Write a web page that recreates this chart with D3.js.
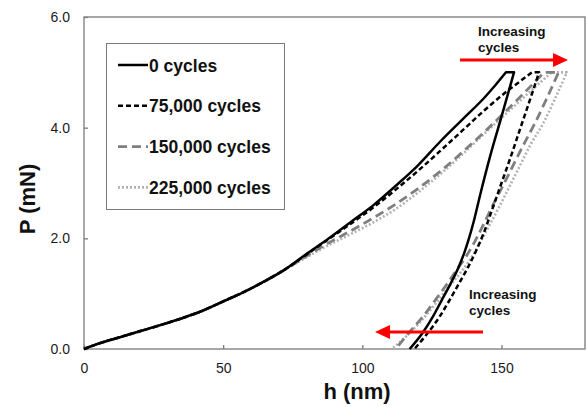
<!DOCTYPE html>
<html>
<head>
<meta charset="utf-8">
<script src="https://cdn.jsdelivr.net/npm/d3@7"></script>
<style>
  body { margin: 0; background: #fff; }
  svg { display: block; font-family: "Liberation Sans", Arial, sans-serif; }
</style>
</head>
<body>
<svg id="chart" width="587" height="407"></svg>
<script>
// Load-displacement curves: [h (nm), P (mN)]
// common start of the loading curves
const loadingBase = [
  [0, 0], [6, 0.11], [12, 0.2], [20, 0.32], [28, 0.44], [36, 0.57], [43, 0.7],
  [50, 0.86], [57, 1.02], [64, 1.2], [72, 1.43]
];

// loading branches (to the peak), unloading branches (from end of hold)
const load0 = [
  [80, 1.72], [88, 2.0], [96, 2.3], [104, 2.6], [112, 2.95], [120, 3.32],
  [128, 3.75], [136, 4.15], [144, 4.55], [148, 4.78], [151.6, 5.0]
];
const unload0 = [
  [154.5, 5.0], [150, 4.2], [146, 3.5], [142.5, 2.82], [140, 2.3], [138.2, 1.98],
  [136.5, 1.72], [134.5, 1.47], [131.9, 1.2], [128.5, 0.88], [125.3, 0.58],
  [121.5, 0.28], [117, 0]
];

const load75k = [
  [80, 1.71], [88, 1.99], [96, 2.27], [104, 2.56], [112, 2.88], [120, 3.22],
  [128, 3.58], [136, 3.95], [144, 4.32], [152, 4.66], [157, 4.85], [161, 5.0]
];
const unload75k = [
  [163.5, 5.0], [160, 4.47], [156.5, 3.95], [153.5, 3.5], [150, 3.0], [146.5, 2.5],
  [143.5, 2.08], [141, 1.79], [138, 1.48], [134.8, 1.19], [131.3, 0.88],
  [127.7, 0.58], [123.2, 0.27], [118.7, 0]
];

const load150k = [
  [80, 1.68], [88, 1.92], [96, 2.14], [104, 2.37], [112, 2.62], [120, 2.9],
  [128, 3.21], [136, 3.56], [144, 3.93], [152, 4.32], [158, 4.62], [165.3, 5.0]
];
const unload150k = [
  [170.5, 5.0], [166, 4.5], [162, 4.08], [158, 3.7], [154, 3.3], [150.5, 2.95],
  [147.4, 2.65], [144, 2.3], [140.5, 1.95], [137, 1.65], [133.5, 1.4], [130.5, 1.18],
  [126, 0.87], [121.7, 0.58], [116.5, 0.28], [112, 0]
];

const load225k = [
  [80, 1.66], [88, 1.88], [96, 2.08], [104, 2.29], [112, 2.53], [120, 2.83],
  [128, 3.16], [136, 3.52], [144, 3.9], [152, 4.27], [160, 4.64], [168, 5.0]
];
const unload225k = [
  [173.5, 5.0], [169, 4.5], [165, 4.08], [160.5, 3.7], [156.5, 3.3], [152.5, 2.9],
  [149.5, 2.6], [146, 2.27], [142, 1.9], [138.5, 1.6], [134.5, 1.33], [131, 1.12],
  [126, 0.8], [121, 0.5], [116, 0.24], [110.5, 0]
];

const seriesNames = ["0 cycles", "75,000 cycles", "150,000 cycles", "225,000 cycles"];
const xTicks = [0, 50, 100, 150];
const yTicks = [0, 2, 4, 6];

const styles = [
  { color: "#000000", dash: null, width: 2.5 },
  { color: "#000000", dash: "5,3", width: 2.5 },
  { color: "#7f7f7f", dash: "9,5", width: 2.8 },
  { color: "#b3b3b3", dash: "2,2", width: 2.6 }
];

const svg = d3.select("#chart");
const plot = { left: 84, top: 17, right: 585, bottom: 349 };

const x = d3.scaleLinear().domain([0, 180]).range([plot.left, plot.right]);
const y = d3.scaleLinear().domain([0, 6]).range([plot.bottom, plot.top]);

const series = [
  { load: loadingBase.concat(load0), unload: unload0 },
  { load: loadingBase.concat(load75k), unload: unload75k },
  { load: loadingBase.concat(load150k), unload: unload150k },
  { load: loadingBase.concat(load225k), unload: unload225k }
];

// frame
svg.append("rect")
  .attr("x", plot.left).attr("y", plot.top)
  .attr("width", plot.right - plot.left).attr("height", plot.bottom - plot.top)
  .attr("fill", "none").attr("stroke", "#7a7a7a").attr("stroke-width", 1.3);

// ticks (inward)
const xAxis = svg.append("g")
  .attr("transform", `translate(0,${plot.bottom})`)
  .call(d3.axisBottom(x).tickValues(xTicks).tickSizeInner(-4).tickSizeOuter(0).tickPadding(14.5));
const yAxis = svg.append("g")
  .attr("transform", `translate(${plot.left},0)`)
  .call(d3.axisLeft(y).tickValues(yTicks).tickSizeInner(-4).tickSizeOuter(0).tickPadding(14)
    .tickFormat(d3.format(".1f")));

[xAxis, yAxis].forEach(a => {
  a.select(".domain").remove();
  a.selectAll(".tick line").attr("stroke", "#7a7a7a").attr("stroke-width", 1.3);
  a.selectAll(".tick text")
    .attr("font-family", "Liberation Sans, Arial, sans-serif")
    .attr("font-size", 14).attr("fill", "#1a1a1a");
});

// curves: loading, flat hold at peak, unloading
const line = d3.line()
  .x(d => x(d[0]))
  .y(d => y(d[1]))
  .curve(d3.curveMonotoneX);

const order = [3, 2, 1, 0];
order.forEach(i => {
  const s = series[i];
  const d = line(s.load) + line(s.unload).replace(/^M/, "L");
  svg.append("path")
    .attr("d", d)
    .attr("fill", "none")
    .attr("stroke", styles[i].color)
    .attr("stroke-width", styles[i].width)
    .attr("stroke-dasharray", styles[i].dash)
    .attr("stroke-linejoin", "round");
});

// legend
const legend = svg.append("g");
legend.append("rect")
  .attr("x", 106.5).attr("y", 43.5).attr("width", 178).attr("height", 166)
  .attr("fill", "#fff").attr("stroke", "#7a7a7a").attr("stroke-width", 1);

seriesNames.forEach((name, i) => {
  const cy = 65 + i * 40.8;
  legend.append("line")
    .attr("x1", 118).attr("x2", 148).attr("y1", cy).attr("y2", cy)
    .attr("stroke", styles[i].color)
    .attr("stroke-width", styles[i].width)
    .attr("stroke-dasharray", styles[i].dash);
  legend.append("text")
    .attr("x", 149).attr("y", cy + 6.5)
    .attr("font-size", 17.5).attr("font-weight", "bold").attr("fill", "#111")
    .text(name);
});

// annotations
function arrow(x1, x2, yy) {
  const dir = x2 > x1 ? 1 : -1;
  const head = 15;
  svg.append("line")
    .attr("x1", x1).attr("x2", x2 - dir * head).attr("y1", yy).attr("y2", yy)
    .attr("stroke", "#ff0000").attr("stroke-width", 3);
  svg.append("path")
    .attr("d", `M${x2},${yy} L${x2 - dir * head},${yy - 7} L${x2 - dir * head},${yy + 7} Z`)
    .attr("fill", "#ff0000");
}

function note(tx, ty) {
  const t = svg.append("text")
    .attr("x", tx).attr("y", ty)
    .attr("font-size", 13.5).attr("font-weight", "bold").attr("fill", "#111");
  t.append("tspan").attr("x", tx).text("Increasing");
  t.append("tspan").attr("x", tx).attr("dy", 16).text("cycles");
}

note(478, 36);
arrow(460, 568, 60);
note(469, 299);
arrow(483, 375, 332);

// axis titles
svg.append("text")
  .attr("x", 357).attr("y", 399)
  .attr("text-anchor", "middle")
  .attr("font-size", 22).attr("font-weight", "bold").attr("fill", "#111")
  .text("h (nm)");

svg.append("text")
  .attr("transform", "translate(35,199) rotate(-90)")
  .attr("text-anchor", "middle")
  .attr("font-size", 22).attr("font-weight", "bold").attr("fill", "#111")
  .text("P (mN)");
</script>
</body>
</html>
